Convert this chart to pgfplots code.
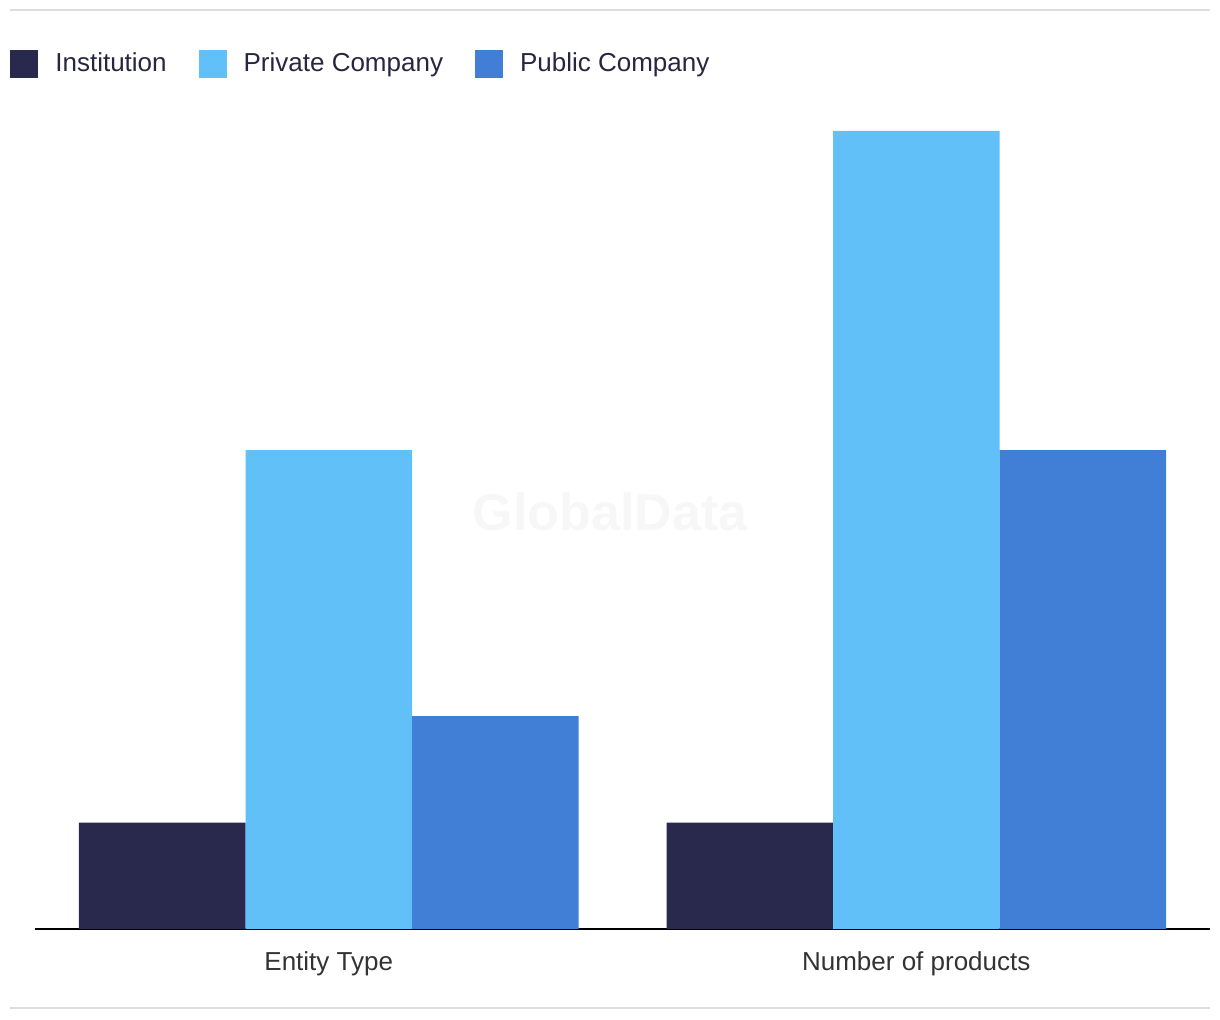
\documentclass[border=0pt]{standalone}
\usepackage{fontspec}
\setmainfont{Liberation Sans}
\usepackage{pgfplots}
\pgfplotsset{compat=1.18}

\definecolor{Inst}{RGB}{40,41,76}
\definecolor{Priv}{RGB}{98,192,249}
\definecolor{Publ}{RGB}{65,126,214}
\definecolor{txtdark}{RGB}{38,38,64}
\definecolor{txtgray}{RGB}{51,51,51}
\definecolor{rule}{RGB}{221,221,221}

\begin{document}
\begin{tikzpicture}
% frame rules and watermark (1px = 0.5pt)
\draw[rule, line width=1pt] (5pt,505pt) -- (605pt,505pt);
\draw[rule, line width=1pt] (5pt,6pt) -- (605pt,6pt);
\node[text=black!3, font=\bfseries\fontsize{26pt}{30pt}\selectfont] at (305pt,254pt) {GlobalData};

\begin{axis}[
    at={(17.5pt,45.5pt)}, anchor=south west,
    scale only axis,
    width=587.5pt, height=425.6pt,
    ybar=0pt,
    bar width=83.25pt,
    xmin=-0.5, xmax=1.5,
    ymin=0, ymax=16,
    axis x line=bottom,
    axis y line=none,
    x axis line style={-, black, line width=1pt},
    xtick={0,1},
    xticklabels={Entity Type, Number of products},
    major tick length=0pt,
    xticklabel style={anchor=base, yshift=-21pt, text=txtgray,
        font=\fontsize{13pt}{15pt}\selectfont},
    clip=false,
    legend columns=3,
    legend image code/.code={\fill (0pt,-7pt) rectangle (14pt,7pt);},
    legend style={
        draw=none, fill=none, inner sep=0pt,
        at={(-0.0213,1.0162)}, anchor=west,
        font=\fontsize{13pt}{15pt}\selectfont, text=txtdark,
        nodes={inner sep=0pt},
        /tikz/every odd column/.append style={column sep=8.5pt},
        /tikz/every even column/.append style={column sep=16pt}
    },
    legend cell align=left
]
\addplot[fill=Inst, draw=none] coordinates {(0,2) (1,2)};
\addlegendentry{Institution}
\addplot[fill=Priv, draw=none] coordinates {(0,9) (1,15)};
\addlegendentry{Private Company}
\addplot[fill=Publ, draw=none] coordinates {(0,4) (1,9)};
\addlegendentry{Public Company}
\end{axis}
\pgfresetboundingbox
\path (0,0) rectangle (610pt,510pt);
\end{tikzpicture}
\end{document}
